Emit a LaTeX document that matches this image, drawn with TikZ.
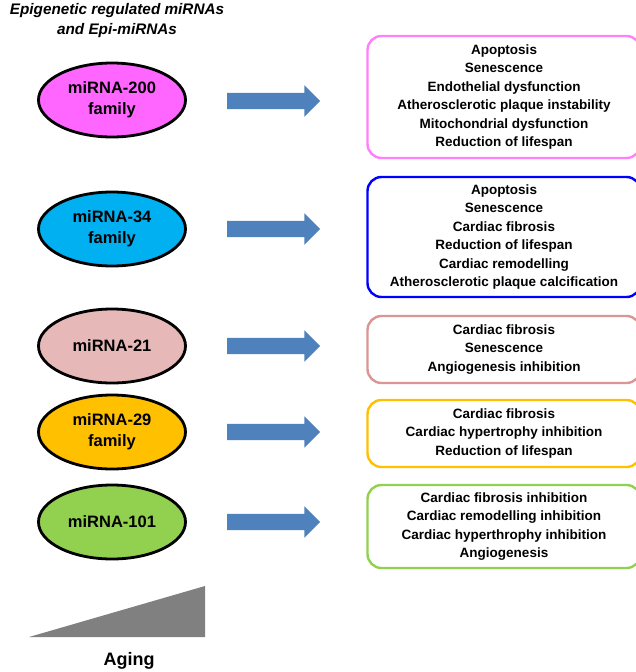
\documentclass[tikz,border=0pt]{standalone}
\usepackage{fontspec}
\setmainfont{Liberation Sans}
\usetikzlibrary{shapes.geometric,shapes.arrows}
\definecolor{cpink}{HTML}{FF66FF}
\definecolor{cpinkb}{HTML}{FF7FFF}
\definecolor{ccyan}{HTML}{00B0F0}
\definecolor{cblue}{HTML}{0000FF}
\definecolor{crose}{HTML}{E6B9B8}
\definecolor{croseb}{HTML}{D99694}
\definecolor{cgold}{HTML}{FFC000}
\definecolor{cgreen}{HTML}{92D050}
\definecolor{carrow}{HTML}{4F81BD}
\begin{document}
\begin{tikzpicture}[x=1pt,y=-1pt,
  mirna/.style={ellipse,draw=black,line width=2.8pt,minimum width=147pt,minimum height=74pt,
    inner sep=0pt,align=center,font=\fontsize{16.5}{21}\selectfont\bfseries},
  effbox/.style={draw,line width=2.4pt,rounded corners=14pt,align=center,
    font=\fontsize{13.5}{18.5}\selectfont\bfseries},
  barrow/.style={single arrow,fill=carrow,draw=none,minimum height=93pt,
    single arrow head extend=7.5pt,single arrow tip angle=90,inner xsep=0pt,inner ysep=8pt},
]
\useasboundingbox (0,0) rectangle (636,672);
\begin{scope}
\clip (0,0) rectangle (636,672);
% title
\node[font=\fontsize{15.3}{20}\selectfont\bfseries\itshape,align=center] (title) at (117,21)
  {Epigenetic regulated miRNAs\\and Epi-miRNAs};
% ellipses
\node[mirna,fill=cpink] (m200) at (112,100) {miRNA-200\\family};
\node[mirna,fill=ccyan] (m34) at (112,229) {miRNA-34\\family};
\node[mirna,fill=crose] (m21) at (112,346) {miRNA-21};
\node[mirna,fill=cgold] (m29) at (112,432) {miRNA-29\\family};
\node[mirna,fill=cgreen] (m101) at (112,522) {miRNA-101};
% boxes
\node[effbox,draw=cpinkb,minimum width=273pt,minimum height=122pt] (b200) at (504,97)
  {Apoptosis\\Senescence\\Endothelial dysfunction\\Atherosclerotic plaque instability\\Mitochondrial dysfunction\\Reduction of lifespan};
\node[effbox,draw=cblue,minimum width=273pt,minimum height=120pt] (b34) at (504,237)
  {Apoptosis\\Senescence\\Cardiac fibrosis\\Reduction of lifespan\\Cardiac remodelling\\Atherosclerotic plaque calcification};
\node[effbox,draw=croseb,minimum width=273pt,minimum height=67pt] (b21) at (504,349.5)
  {Cardiac fibrosis\\Senescence\\Angiogenesis inhibition};
\node[effbox,draw=cgold,minimum width=273pt,minimum height=67pt] (b29) at (504,433.5)
  {Cardiac fibrosis\\Cardiac hypertrophy inhibition\\Reduction of lifespan};
\node[effbox,draw=cgreen,minimum width=273pt,minimum height=83pt] (b101) at (504,526.5)
  {Cardiac fibrosis inhibition\\Cardiac remodelling inhibition\\Cardiac hyperthrophy inhibition\\Angiogenesis};
\end{scope}
% arrows
\node[barrow] (a200) at (269.5,101) {};
\node[barrow] (a34) at (269.5,229) {};
\node[barrow] (a21) at (269.5,346) {};
\node[barrow] (a29) at (269.5,432) {};
\node[barrow] (a101) at (269.5,522) {};
% aging
\coordinate (t1) at (29,637);
\coordinate (t2) at (205,637);
\coordinate (t3) at (205,586);
\fill[gray] (t1) -- (t2) -- (t3) -- cycle;
\node[font=\fontsize{18}{20}\selectfont\bfseries] (aging) at (129,661) {Aging};
\end{tikzpicture}
\end{document}
